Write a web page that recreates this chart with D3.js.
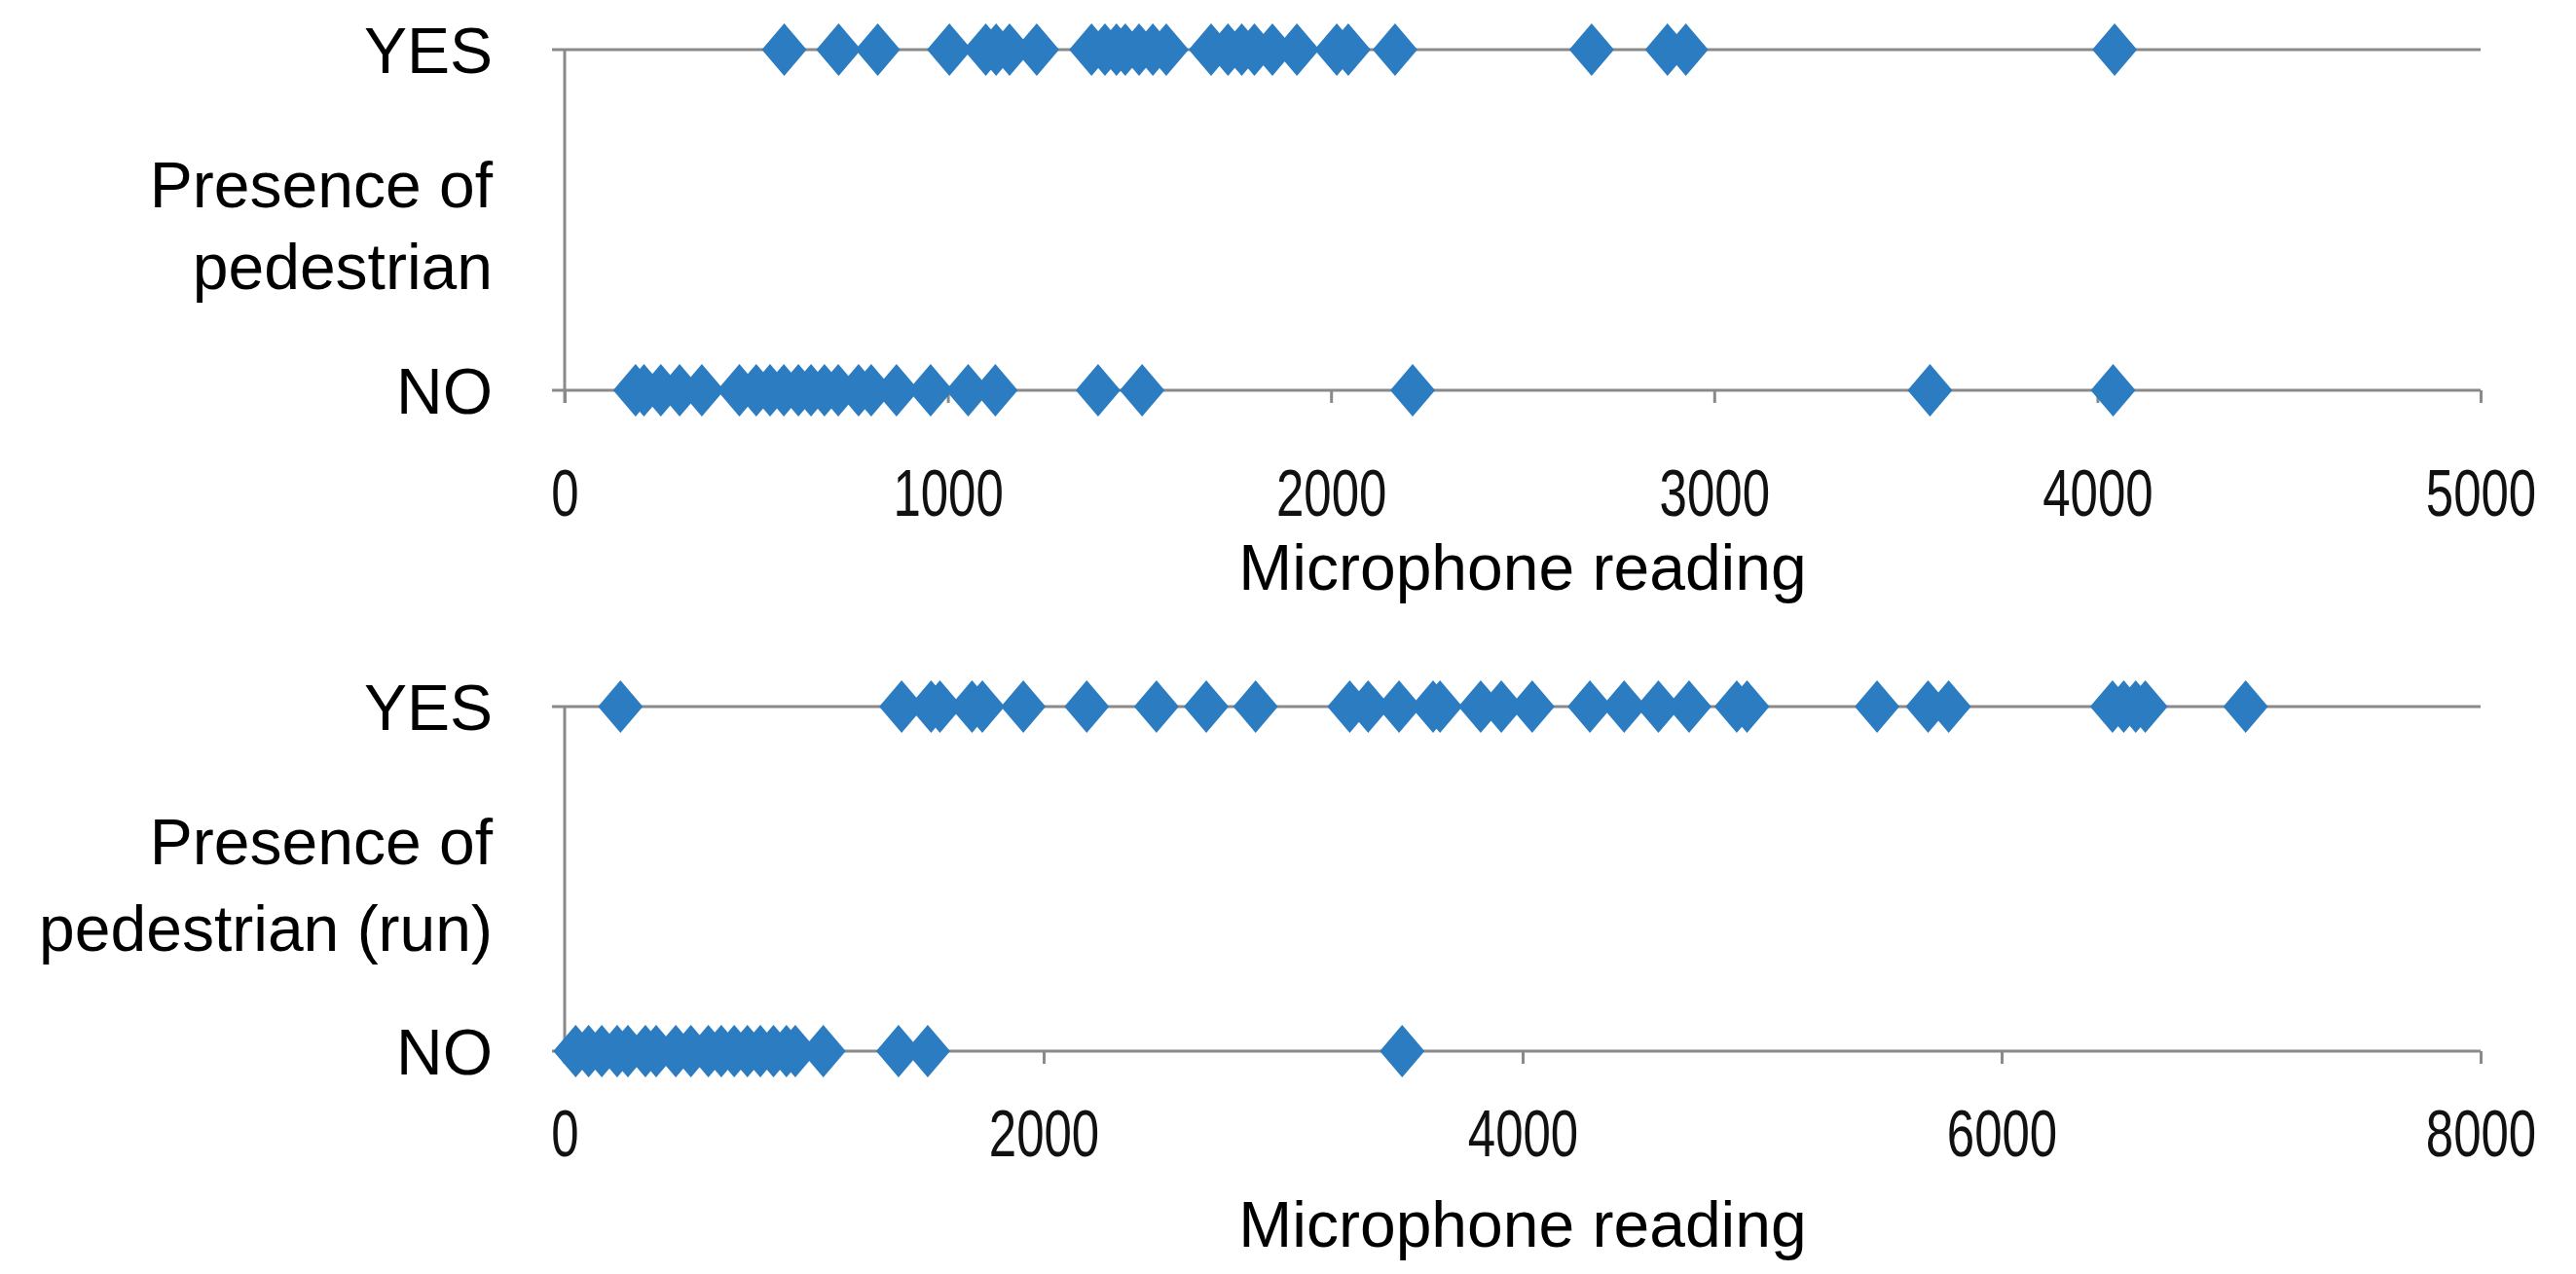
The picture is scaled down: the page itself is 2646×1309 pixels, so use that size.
<!DOCTYPE html>
<html>
<head>
<meta charset="utf-8">
<script src="https://cdn.jsdelivr.net/npm/d3@7"></script>
<style>
  body { margin: 0; background: #fff; }
  text { font-family: "Liberation Sans", Arial, sans-serif; fill: #000; }
</style>
</head>
<body>
<div id="chart"></div>
<script>
// readings where a pedestrian was / wasn't present (walking)
const topYes = [573, 715, 817, 1004, 1099, 1126, 1161, 1232, 1375, 1410, 1440, 1463, 1499, 1535, 1570,
                1687, 1731, 1767, 1800, 1847, 1911, 2015, 2045, 2167, 2680, 2878, 2926, 4045];
const topNo = [185, 207, 251, 300, 358, 456, 500, 536, 572, 610, 643, 678, 714, 767, 800, 866, 955,
               1053, 1124, 1392, 1507, 2213, 3563, 4041];

// readings for the running pedestrian
const bottomYes = [233, 1407, 1530, 1567, 1701, 1744, 1915, 2180, 2471, 2679, 2885, 3278, 3355, 3484,
                   3626, 3655, 3825, 3911, 4040, 4281, 4424, 4567, 4695, 4894, 4937, 5480, 5693, 5779,
                   6463, 6510, 6560, 6600, 7019];
const bottomNo = [46, 100, 155, 219, 264, 337, 382, 464, 527, 600, 654, 708, 763, 817, 872, 926, 963,
                  1080, 1394, 1516, 3497];

const categories = ["NO", "YES"];
const topTicks = [0, 1000, 2000, 3000, 4000, 5000];
const bottomTicks = [0, 2000, 4000, 6000, 8000];

const width = 2646, height = 1309;
const blue = "#2b7cc1";
const axisColor = "#8a8a8a";

const svg = d3.select("#chart")
    .append("svg")
    .attr("width", width)
    .attr("height", height)
    .attr("viewBox", `0 0 ${width} ${height}`);

svg.append("rect").attr("width", width).attr("height", height).attr("fill", "#fff");

function drawPanel(opts) {
    const x = d3.scaleLinear().domain([0, opts.max]).range([580, 2548]);
    const y = d3.scalePoint().domain(categories).range([opts.noY, opts.yesY]);
    const g = svg.append("g");
    const tickLen = 13;

    // YES gridline
    g.append("line")
        .attr("x1", x(0) - tickLen).attr("x2", x(opts.max))
        .attr("y1", y("YES")).attr("y2", y("YES"))
        .attr("stroke", axisColor).attr("stroke-width", 3);

    // vertical axis
    g.append("line")
        .attr("x1", x(0)).attr("x2", x(0))
        .attr("y1", y("YES")).attr("y2", y("NO") + tickLen)
        .attr("stroke", axisColor).attr("stroke-width", 3);

    // horizontal axis at NO level
    const xAxis = d3.axisBottom(x)
        .tickValues(opts.ticks)
        .tickSize(tickLen)
        .tickSizeOuter(0)
        .tickFormat(d3.format("d"));
    const ax = g.append("g")
        .attr("transform", `translate(0,${y("NO")})`)
        .call(xAxis);
    ax.select(".domain").remove();
    ax.append("line")
        .attr("x1", x(0) - tickLen).attr("x2", x(opts.max))
        .attr("stroke", axisColor).attr("stroke-width", 3);
    ax.selectAll(".tick line").attr("stroke", axisColor).attr("stroke-width", 3);
    // tick labels are a condensed face in the original
    ax.selectAll(".tick text")
        .attr("y", opts.tickLabelY - y("NO"))
        .attr("dy", "0.36em")
        .attr("font-size", 68)
        .attr("font-family", "\"Liberation Sans\", Arial, sans-serif")
        .attr("transform", "scale(0.75,1)")
        .style("fill", "#111");

    // category labels
    g.selectAll(".cat")
        .data(categories)
        .join("text")
        .attr("class", "cat")
        .attr("x", 506)
        .attr("y", d => y(d))
        .attr("dy", "0.36em")
        .attr("text-anchor", "end")
        .attr("font-size", 66)
        .text(d => d);

    // y title
    g.selectAll(".ytitle")
        .data(opts.yTitle)
        .join("text")
        .attr("x", 506)
        .attr("y", (d, i) => opts.yTitleY[i])
        .attr("dy", "0.36em")
        .attr("text-anchor", "end")
        .attr("font-size", 66)
        .text(d => d);

    // x title
    g.append("text")
        .attr("x", (x(0) + x(opts.max)) / 2)
        .attr("y", opts.xTitleY)
        .attr("dy", "0.36em")
        .attr("text-anchor", "middle")
        .attr("font-size", 66)
        .text("Microphone reading");

    // markers
    const mw = 23, mh = 27;
    const diamond = `M0,${-mh} L${mw},0 L0,${mh} L${-mw},0 Z`;
    const points = opts.no.map(v => ({ v, c: "NO" })).concat(opts.yes.map(v => ({ v, c: "YES" })));
    g.selectAll(".pt")
        .data(points)
        .join("path")
        .attr("class", "pt")
        .attr("d", diamond)
        .attr("transform", d => `translate(${x(d.v)},${y(d.c)})`)
        .attr("fill", blue);
}

drawPanel({
    max: 5000, ticks: topTicks, yesY: 51, noY: 401, tickLabelY: 506, xTitleY: 582,
    yes: topYes, no: topNo,
    yTitle: ["Presence of", "pedestrian"], yTitleY: [189, 273]
});

drawPanel({
    max: 8000, ticks: bottomTicks, yesY: 726, noY: 1080, tickLabelY: 1164, xTitleY: 1257,
    yes: bottomYes, no: bottomNo,
    yTitle: ["Presence of", "pedestrian (run)"], yTitleY: [864, 953]
});
</script>
</body>
</html>
